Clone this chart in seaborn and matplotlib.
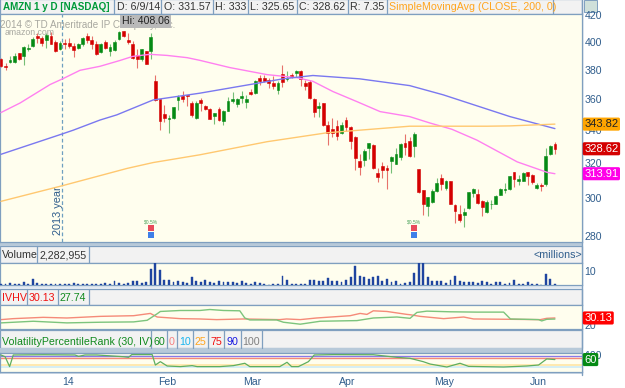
import matplotlib
matplotlib.use("Agg")
import matplotlib.pyplot as plt
import numpy as np
import seaborn as sns
from matplotlib.patches import Rectangle
from matplotlib.ticker import NullLocator

# candles
opens = [387.7, 382.5, 385.3, 385.3, 391.5, 389.6, 394.8, 396.7, 403.8, 402.8,
         401.4, 404.3, 400, 394.3, 399, 399, 396.7, 395.3, 398.1, 404.3,
         401.4, 398.6, 392.4, 400, 393.4, 393.8, 401.9, 407.8, 401.4, 398.6,
         390, 387.2, 392.9, 392.9, 372.4, 359.8, 350.1, 347, 347.5, 359.3,
         362, 362.8, 357.2, 347.5, 359.4, 355.5, 353.3, 349, 353.3, 346,
         352.5, 359, 356.6, 360.4, 358.3, 364.7, 363.9, 374.5, 374.5, 373.1,
         371, 366.2, 376.8, 373.6, 375.9, 377.3, 379, 370.8, 371.3, 360.2,
         354.4, 357.2, 343.4, 340.5, 342.6, 338, 346.5, 342.2, 335.6, 321.2,
         321.8, 328.8, 330.9, 314.5, 318.3, 317, 321.4, 319.8, 323.8, 332.3,
         333.3, 330, 316.6, 304.6, 296, 298, 304, 311.3, 306, 309.9,
         296.2, 291.4, 291, 294.6, 303, 302.7, 298.4, 292.8, 296.7, 297.2,
         302, 304.5, 305, 314.7, 309.5, 310, 314.7, 313.1, 305.9, 307.2,
         308, 325.4, 331.57]
highs = [388.4, 384.8, 389.6, 392, 392, 396.7, 397.9, 403.3, 406.2, 404.3,
         406.2, 407.3, 401.4, 400.2, 401.9, 402.6, 399, 399, 403.3, 406.6,
         403.8, 400.2, 399, 400.9, 397.9, 400.9, 408.06, 407.9, 406.2, 400.2,
         394.3, 394.8, 393.1, 406.2, 375.9, 360.1, 356, 349.8, 355, 363,
         365.5, 363, 358.4, 358.4, 360.5, 356, 354, 351, 354.6, 352.9,
         361.5, 364.7, 360.9, 365.4, 362.6, 366.9, 373, 375.9, 375.9, 374.3,
         375.4, 372, 383.5, 378.9, 377.3, 380, 379.6, 373, 373, 361,
         358.3, 357.6, 346, 347.7, 346.4, 345.3, 348.4, 342.6, 336.5, 325.3,
         328.3, 332.3, 331.2, 317, 320.8, 318.9, 324.4, 328.9, 332, 337.6,
         336, 339, 316.8, 304.6, 300.9, 305.5, 311.3, 313.7, 310.4, 310,
         296.8, 296.3, 294.7, 303.5, 306, 305, 299.3, 299, 299, 301.9,
         306, 308.4, 312.8, 315, 313, 315, 315, 313.5, 308.4, 308.7,
         328.9, 330.8, 333]
lows = [381.8, 379.6, 384.4, 384.8, 386.7, 383.4, 393.1, 396.2, 399.1, 396.7,
        395.5, 397.9, 392.4, 393.8, 394.3, 395.5, 389.1, 394.3, 396.7, 399,
        394.3, 390, 391.9, 394.8, 389.6, 393.4, 401.4, 403.3, 397.9, 387.2,
        381.3, 386, 383.6, 387.7, 358.6, 340, 345, 338, 346.8, 353,
        358, 355.3, 348.5, 347, 352, 352.9, 346.9, 343.9, 346, 343.2,
        352, 357.2, 355, 357.2, 354, 362.6, 363.5, 369.7, 371.3, 367.4,
        366.7, 363.5, 368, 372, 374.3, 375, 369, 365.8, 359.8, 348.6,
        348.6, 342.6, 330.9, 336, 334, 337.6, 339.4, 328.5, 316, 313.1,
        318.5, 322.4, 316.6, 309.3, 311.3, 305.5, 314.5, 319.8, 322.2, 324.9,
        323.6, 323.4, 303.2, 291, 290.5, 297.5, 303.6, 304.6, 304.6, 296.8,
        287, 287.5, 284.7, 294.3, 300.7, 296.8, 290.5, 292, 294, 296.8,
        301.7, 303.2, 304.8, 306.5, 307.4, 309.6, 307.4, 308.3, 305.4, 304,
        307, 325, 325.65]
closes = [382.5, 381.5, 386.7, 389.6, 387.7, 396.2, 395.5, 401.9, 402.8, 399.1,
          404.7, 397.9, 393.1, 399, 398.3, 396.7, 393.8, 398.3, 402.4, 401,
          398.1, 390.8, 397.9, 395.7, 396.2, 400, 406.9, 404.5, 399.8, 388.4,
          387.7, 394.8, 384.1, 403.3, 359.3, 346, 347.5, 347.5, 354.6, 361.2,
          359.8, 362, 349.7, 357.2, 357.6, 353.3, 347.1, 350.8, 346.5, 352.5,
          358.5, 360, 360, 361.9, 360, 363.2, 372.4, 372.4, 372.4, 370.8,
          369, 370.8, 371.5, 374.3, 375, 379, 373.6, 369, 360.5, 351.8,
          355.5, 343.2, 338.4, 338.4, 336.4, 343.4, 342.2, 333.5, 323.2, 317.9,
          327.3, 332, 317, 311.9, 316, 316, 323.8, 325.3, 331.3, 329.5,
          324.2, 337.4, 303.6, 296.7, 300.7, 304.2, 308.4, 308, 310, 297.2,
          293.3, 288.4, 292.8, 303.3, 305, 297.5, 295.4, 298, 297.2, 301.5,
          305, 305, 312.4, 310.9, 310.7, 314.1, 312.8, 309, 307.4, 306.7,
          324, 330.3, 328.62]
volume = [.7, .7, 1.4, 1, 1, 1.9, .7, 4.3, 1.4, .5,
          .5, .5, 1, .5, .5, .5, 1.4, .7, .7, .5,
          .5, 1, 1, 1.2, 1, 3.1, 1.7, .5, 1.7, 2.9,
          2.9, 1.7, 2.4, 11.4, 16.2, 10.7, 3.6, 3.3, 2.1, 2.6,
          2.1, 1.7, 5.7, 2.6, 1.9, 3.8, 1.9, 1.4, 2.6, 1.9,
          2.1, 2.1, 1.4, 2.6, 1.4, 1, 2.4, 1.2, .5, .2,
          .5, .7, 6.2, 3.3, .5, 1, .5, .7, 3.8, 3.6,
          3.1, 3.1, 5, 2.6, 2.6, 1.9, 3.6, 5.7, 13.6, 6.4,
          6, 4.3, 5.7, 6.7, 2.6, 4.3, 2.4, 2.9, 1, 1.7,
          1.9, 9, 16.2, 16.2, 5.7, 2.9, 2.6, 2.6, 1.4, 3.3,
          6.2, 2.6, 2.1, 2.1, 1.9, 1.7, 2.6, 1.9, 1, 2.4,
          1.9, 1, 1.2, 3.6, 1, .7, 2.4, .5, .5, .2,
          7.6, 4.3, .7]

# moving averages: candle number, price
sma50_x = [0, 4.2, 10.8, 13.7, 17.4, 21.8, 26.2, 29, 32.8, 36.6, 41, 43.8, 50.4,
           58.6, 65.2, 68.7, 73.1, 78.4, 83.5, 90, 94.5, 99.3, 104.8, 113.7, 120.3, 122]
sma50_y = [351.2, 357.4, 369.7, 373.8, 379.5, 382.3, 386.4, 389.3, 390.8, 390, 388.4,
           386.5, 381.4, 376.5, 374.4, 371.9, 365, 358.3, 351.8, 348.6, 344.5, 340.6,
           333.9, 320.8, 314.7, 313.91]
sma100_x = [0, 13.4, 15.9, 21.8, 25.5, 33.5, 43.8, 54.8, 62.1, 68.7, 79, 90, 97.4, 112.1, 122]
sma100_y = [325.3, 337.6, 340, 346.4, 349.7, 359.4, 363.9, 369.7, 373.6, 375.9,
            373.6, 369, 362.8, 348.6, 341]
sma200_x = [0, 13.4, 27.8, 33.5, 43.8, 58.6, 71.8, 90, 107, 112.1, 122]
sma200_y = [298.4, 307, 317, 320.4, 325, 332.9, 338.4, 342.5, 342.5, 342.7, 343.82]

# IVHV panel
iv_x = [0, 2.7, 9.3, 14.5, 21.9, 29.2, 32.9, 34.4, 39.5, 43.8, 47.5, 53.4, 61.4, 62.9,
        65.9, 69.5, 76.9, 79.1, 80.6, 82, 85, 89.4, 90.1, 92.3, 97.5, 101.9, 104.1,
        112.2, 118.8, 120.2, 122]
iv_y = [27.6, 29.1, 31.1, 30.1, 32.6, 33.6, 37.1, 31.6, 29.1, 28.6, 27.6, 28.6, 27.6, 28.6,
        27.6, 30.1, 33.6, 37.1, 35.6, 41.1, 40.1, 35.6, 35.1, 32.6, 29.1, 31.6, 28.6,
        28.1, 27.6, 29.6, 30.13]
hv_x = [0, 7.1, 14.5, 21.9, 29.2, 32.2, 34.4, 35.1, 39.5, 43.8, 46, 49, 52.6, 53.7, 54.8,
        60.7, 62.2, 65.9, 70.3, 78.4, 82, 87.2, 90.1, 91.6, 93.8, 98.9, 104.8, 110.7,
        112.2, 118.4, 119.1, 120.2, 122]
hv_y = [22.6, 25.1, 22.6, 23.6, 24.1, 26.6, 36.6, 40.1, 41.6, 41.6, 43.1, 41.6, 41.1, 30.1, 27.1,
        27.1, 23.6, 20.6, 25.1, 26.1, 30.1, 31.6, 29.6, 38.6, 40.6, 39.6, 39.1, 39.1,
        28.6, 27.6, 25.6, 28.1, 28.5]

# percentile rank panel
rank_x = [0, 0.9, 1.9, 2.7, 9.4, 16.3, 17.1, 18.5, 21.1, 27, 28.1, 28.8, 33.3, 34, 35.1,
          36.6, 39.5, 42.1, 43.2, 48.2, 51.2, 53.7, 54.8, 61.4, 63, 64, 65.5, 67.7, 69,
          73.2, 82, 87.2, 90.1, 93, 94.5, 98.2, 101.1, 103, 110.7, 115.8, 118.4, 120.2, 122]
rank_y = [97, 83, 3, 97, 99, 97, 86, 97, 97, 83, 78, 100, 100, 16, 43,
          8, 3, 11, 3, 3, 11, 30, 3, 3, 38, 3, 3, 43, 97,
          100, 99, 78, 70, 43, 24, 0, 30, 5, 0, 8, 16, 65, 60]

price_ticks = [280, 300, 320, 340, 360, 380, 400, 420]
month_pos = [14.8, 36.5, 55.3, 76.2, 97.6, 118.3]
month_labels = ["14", "Feb", "Mar", "Apr", "May", "Jun"]
event_pos = [33, 91]
year_line = 13.4

W, H = 625, 388
BLUE = "#2f5d8c"
FRAME = "#7f9fbf"
PLOT_BG = "#fffeee"
HEAD_BG = "#f2f2f2"
RED = "#d40000"
GREEN = "#058a14"
RIGHT = 581.7
XLIM = (-0.22, 127.9)

sns.set_theme(style="white")
plt.rcParams["font.family"] = ["Liberation Sans", "DejaVu Sans"]
plt.rcParams["font.size"] = 7.6


def panel(top, bottom):
    ax = fig.add_axes([0, 1 - bottom / H, RIGHT / W, (bottom - top) / H], zorder=2)
    ax.set_facecolor(PLOT_BG)
    ax.set_xlim(*XLIM)
    ax.yaxis.tick_right()
    ax.tick_params(axis="both", length=0, labelsize=7.6, labelcolor=BLUE, pad=2)
    ax.set_xticks([])
    for s in ax.spines.values():
        s.set_color(FRAME)
        s.set_linewidth(0.9)
    return ax


def tag(ax, y, txt, bg, fg="white"):
    ax.text(1.0045, y, txt, transform=ax.get_yaxis_transform(), ha="left", va="center",
            color=fg, fontsize=8, zorder=20, clip_on=False,
            bbox=dict(boxstyle="round,pad=0.14", fc=bg, ec="none"))


fig = plt.figure(figsize=(W / 100, H / 100), dpi=100, facecolor="white")

# header strips and cell separators
bg = fig.add_axes([0, 0, 1, 1], zorder=0)
bg.set_xlim(0, W)
bg.set_ylim(H, 0)
bg.axis("off")


def strip(top, bottom, seps):
    bg.add_patch(Rectangle((0, top), RIGHT, bottom - top, fc=HEAD_BG, ec=FRAME, lw=0.9))
    for s in seps:
        bg.plot([s, s], [top, bottom], color=FRAME, lw=0.9)


strip(-1, 14, [114, 161, 213, 248, 297, 348, 387, 553])
strip(246, 262.7, [37, 89])
strip(289, 305, [27, 57.7, 88.7])
strip(330, 348, [151, 166.7, 177, 193, 208, 224, 240.7, 262])
bg.add_patch(Rectangle((0, 241.5), RIGHT, 4.5, fc="#b7c9d9", ec="none"))
bg.add_patch(Rectangle((0, 285), RIGHT, 4, fc="#e3eaf1", ec="none"))
bg.add_patch(Rectangle((0, 348), RIGHT, 5, fc="#b7c9d9", ec="none"))
bg.add_patch(Rectangle((0, 371.7), RIGHT, 2, fc="#c9d7e4", ec="none"))
bg.add_patch(Rectangle((584, 0), 13, 12, fc="#cfe0da", ec=FRAME, lw=0.7))
bg.plot([RIGHT, RIGHT], [0, 375], color=FRAME, lw=1)

for x, y, s, c in [
    (117, 7, "D: 6/9/14", "#333333"), (164, 7, "O: 331.57", "#333333"),
    (215, 7, "H: 333", "#333333"), (250, 7, "L: 325.65", "#333333"),
    (299, 7, "C: 328.62", "#333333"), (350, 7, "R: 7.35", "#333333"),
    (389, 7, "SimpleMovingAvg (CLOSE, 200, 0)", "#ffa51f"),
    (2, 255, "Volume", "#333333"), (40, 255, "2,282,955", "#333333"),
    (534, 255, "<millions>", BLUE),
    (2, 298, "IVHV", "#f01010"), (29, 298, "30.13", "#f01010"), (60, 298, "27.74", "#118a1e"),
    (2, 342, "VolatilityPercentileRank (30, IV)", "#118a1e"),
]:
    bg.text(x, y, s, color=c, va="center", ha="left", fontsize=7.7)
bg.text(3, 7, "AMZN 1 y D [NASDAQ]", color="#009a3a", va="center", ha="left",
        fontsize=7.1, fontweight="bold")
for x, s, c in [(159, "60", "#118a1e"), (171.7, "0", "#f58080"), (185, "10", "#19b5ef"),
                (200.5, "25", "#ffa51f"), (216, "75", "#f01010"), (232.5, "90", "#1818e0"),
                (251.5, "100", "#808080")]:
    bg.text(x, 342, s, color=c, va="center", ha="center", fontsize=7.7)

# price panel
ax = panel(14, 241.5)
ax.set_yscale("log")
ax.set_ylim(277.2, 420.8)
ax.set_yticks(price_ticks)
ax.set_yticklabels([str(p) for p in price_ticks])
ax.yaxis.set_minor_locator(NullLocator())

idx = np.arange(len(opens))
o, h, l, c = map(np.array, (opens, highs, lows, closes))
up = c >= o
ax.vlines(idx[up], l[up], h[up], color=GREEN, lw=0.8, alpha=0.55, zorder=3)
ax.vlines(idx[~up], l[~up], h[~up], color=RED, lw=0.8, alpha=0.55, zorder=3)
ax.bar(idx[up], (c - o)[up], bottom=o[up], width=0.62, color=GREEN,
       edgecolor=GREEN, linewidth=0.4, zorder=4)
ax.bar(idx[~up], (o - c)[~up], bottom=c[~up], width=0.62, color=RED,
       edgecolor=RED, linewidth=0.4, zorder=4)

sns.lineplot(x=sma50_x, y=sma50_y, ax=ax, color="#ff80f0", lw=1.0, zorder=5)
sns.lineplot(x=sma100_x, y=sma100_y, ax=ax, color="#7a78f0", lw=1.0, zorder=5)
sns.lineplot(x=sma200_x, y=sma200_y, ax=ax, color="#ffc870", lw=1.0, zorder=5)
ax.set_xlim(*XLIM)

ax.axvline(year_line, color="#6f9fc0", lw=0.9, ls=(0, (3, 2)), zorder=2)
ax.text(year_line + 0.25, 0.028, "2013 year", transform=ax.get_xaxis_transform(), rotation=90,
        ha="right", va="bottom", color=BLUE, fontsize=7.8)

for e in event_pos:
    ax.scatter([e], [280.7], marker="s", s=17, color="#3f7fe8", zorder=6, linewidths=0)
    ax.scatter([e], [284.3], marker="s", s=17, color="#e84a5a", zorder=6, linewidths=0)
    ax.text(e, 287.5, "$0.5%", color="#4aa35a", fontsize=3.6, ha="center", va="center", zorder=6)

ax.text(0, 0.953, "2014 © TD Ameritrade IP Company, Inc.", transform=ax.transAxes,
        color="#a8a8a0", fontsize=7.1, va="center", ha="left", zorder=6)
ax.text(0.008, 0.917, "amazon.com", transform=ax.transAxes, color="#a8a8a0",
        fontsize=6.3, va="center", ha="left", zorder=6)
ax.text(31.8, 0.99, "Hi: 408.06", transform=ax.get_xaxis_transform(), color="#222222",
        fontsize=7.6, va="top", ha="center", zorder=8,
        bbox=dict(boxstyle="square,pad=0.12", fc="#b9b9b9", ec="none"))

tag(ax, 343.82, "343.82", "#ffa500", "#222222")
tag(ax, 328.62, "328.62", RED)
tag(ax, 313.91, "313.91", "#ff00e8")

# volume panel
ax2 = panel(262.7, 285)
sns.barplot(x=idx, y=volume, ax=ax2, native_scale=True, width=0.42,
            color="#1f45a0", saturation=1, errorbar=None, zorder=3,
            edgecolor="#1f45a0", linewidth=0.3)
ax2.set_xlim(*XLIM)
ax2.set_ylim(0, 16.1)
ax2.set_xlabel("")
ax2.set_ylabel("")
ax2.set_xticks([])
ax2.set_yticks([10])
ax2.set_yticklabels(["10"])

# IVHV panel
ax3 = panel(305, 328.5)
sns.lineplot(x=iv_x, y=iv_y, ax=ax3, color="#f58a78", lw=1.0)
sns.lineplot(x=hv_x, y=hv_y, ax=ax3, color="#7cc47c", lw=1.0)
ax3.set_xlim(*XLIM)
ax3.set_ylim(14, 50)
ax3.set_yticks([20])
ax3.set_yticklabels(["20"])
tag(ax3, 30.13, "30.13", "#ff0000")

# percentile rank panel
ax4 = panel(353, 371.7)
ax4.axhspan(10, 25, color="#ffe9b0", lw=0)
ax4.axhspan(-12, 10, color="#d5eef5", lw=0)
ax4.axhline(90, color="#8a78e8", lw=1.0)
ax4.axhline(75, color="#f58a78", lw=1.0)
sns.lineplot(x=rank_x, y=rank_y, ax=ax4, color="#5fae5f", lw=0.9, zorder=4)
ax4.set_xlim(*XLIM)
ax4.set_ylim(-38, 113)
ax4.set_yticks([100])
ax4.set_yticklabels(["100"])
ax4.set_xticks(month_pos)
ax4.set_xticklabels(month_labels)
ax4.tick_params(axis="x", pad=4)
tag(ax4, 60, "60", GREEN)

fig.savefig("out.png", dpi=100)
